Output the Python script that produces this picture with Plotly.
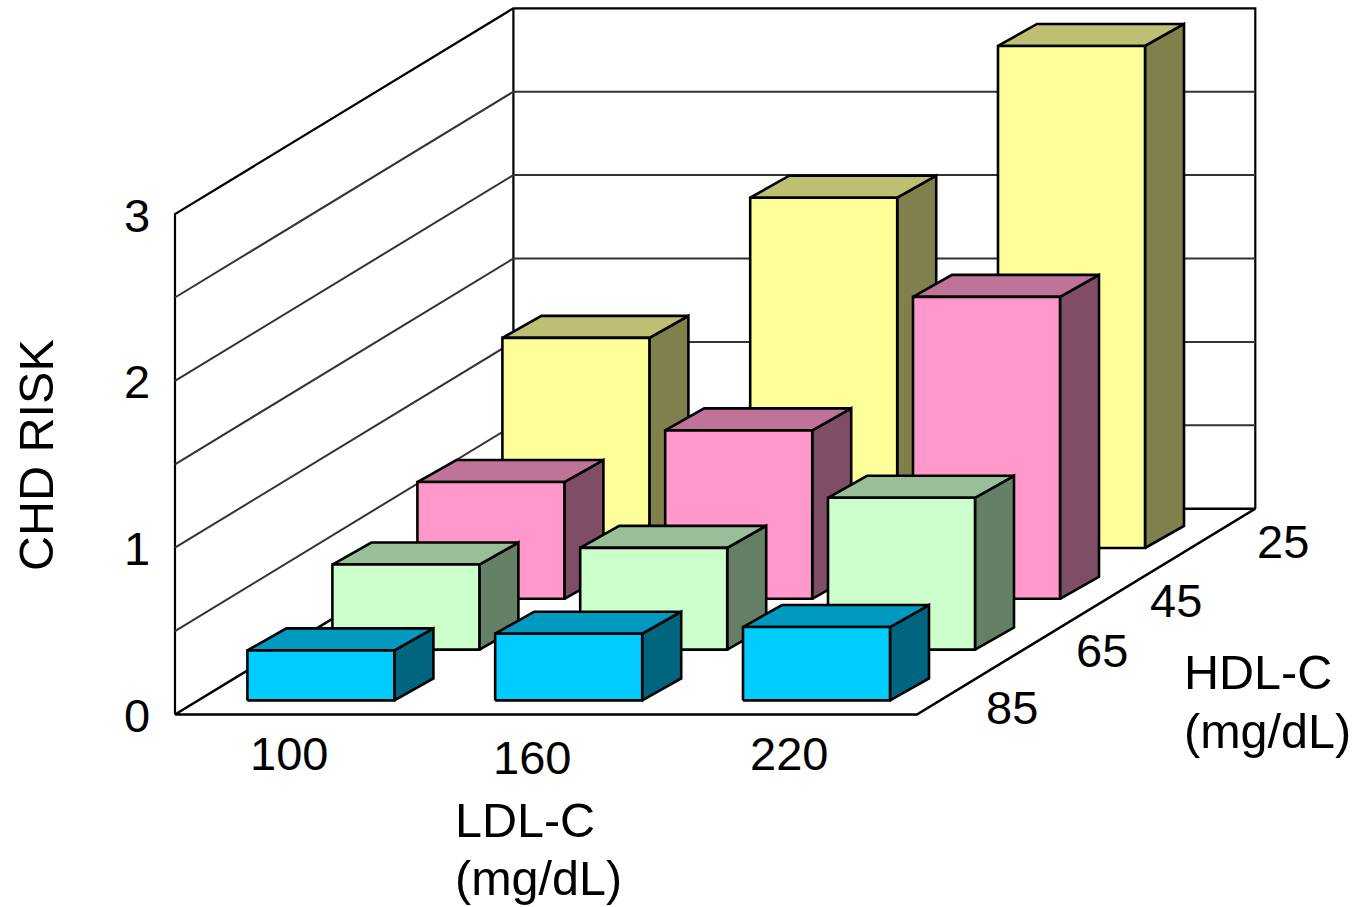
import plotly.graph_objects as go

# ---- data ----
ldl_labels = ["100", "160", "220"]
hdl_labels = ["85", "65", "45", "25"]
risk_ticks = [0, 1, 2, 3]
risk_hdl85 = [0.30, 0.40, 0.44]
risk_hdl65 = [0.51, 0.61, 0.91]
risk_hdl45 = [0.70, 1.01, 1.81]
risk_hdl25 = [1.26, 2.10, 3.01]
rows = [risk_hdl85, risk_hdl65, risk_hdl45, risk_hdl25]

front_colors = ["#00CCFF", "#CCFFCC", "#FF99CC", "#FFFF99"]
top_colors = ["#0099BF", "#99BF99", "#BF7399", "#BFBF73"]
side_colors = ["#006680", "#668066", "#804D66", "#80804D"]

# ---- oblique projection: u = LDL slot, d = HDL slot, v = risk ----
X0, Y0 = 175.0, 714.5
UX = 247.3
DX, DY = 84.6, 51.45
VY = 166.8
YMAX = 3
LINE = "#000000"

# bar placement inside the floor
BAR_X0, BAR_Y0 = 247.4, 700.4
BAR_UX = 247.8
BAR_DX, BAR_DY = 85.0, 50.8
BAR_W = 147.0
BAR_DEPTH_X, BAR_DEPTH_Y = 39.0, 22.0


def P(u, d, v):
    return X0 + UX * u + DX * d, Y0 - DY * d - VY * v


def B(u, d, v, right=False, back=False):
    x = BAR_X0 + BAR_UX * u + BAR_DX * d + (BAR_W if right else 0) + (BAR_DEPTH_X if back else 0)
    y = BAR_Y0 - BAR_DY * d - VY * v - (BAR_DEPTH_Y if back else 0)
    return x, y


fig = go.Figure()


def poly(points, fill=None, width=2.6, color=LINE):
    xs = [p[0] for p in points]
    ys = [p[1] for p in points]
    fig.add_trace(go.Scatter(
        x=xs, y=ys, mode="lines",
        fill="toself" if fill else None,
        fillcolor=fill,
        line=dict(color=color, width=width),
        hoverinfo="skip", showlegend=False,
    ))


nu, nd = len(ldl_labels), len(rows)

# walls and floor
poly([P(0, 0, 0), P(nu, 0, 0), P(nu, nd, 0), P(0, nd, 0), P(0, 0, 0)], width=2.5)
poly([P(0, 0, 0), P(0, 0, YMAX), P(0, nd, YMAX), P(0, nd, 0)], width=2.2)
poly([P(0, nd, YMAX), P(nu, nd, YMAX), P(nu, nd, 0)], width=2.2)
for k in range(1, 2 * YMAX):
    v = k / 2
    poly([P(0, 0, v), P(0, nd, v), P(nu, nd, v)], width=2, color="#333333")

# bars, back to front
for d in reversed(range(nd)):
    for u in range(nu):
        v = rows[d][u]
        poly([B(u, d, 0, True), B(u, d, 0, True, True), B(u, d, v, True, True), B(u, d, v, True), B(u, d, 0, True)], side_colors[d])
        poly([B(u, d, v), B(u, d, v, True), B(u, d, v, True, True), B(u, d, v, False, True), B(u, d, v)], top_colors[d])
        poly([B(u, d, 0), B(u, d, 0, True), B(u, d, v, True), B(u, d, v), B(u, d, 0)], front_colors[d])

TICK_FONT = dict(family="Liberation Sans, Arial, sans-serif", size=47, color="#000000")
TITLE_FONT = dict(family="Liberation Sans, Arial, sans-serif", size=48.5, color="#000000")


def text(x, y, s, font, anchor="center", angle=0):
    fig.add_annotation(x=x, y=y, text=s, showarrow=False, xref="x", yref="y",
                       xanchor=anchor, yanchor="middle", font=font, textangle=angle)


# tick labels
for t in risk_ticks:
    x, y = P(0, 0, t)
    text(x - 38, y + 1, str(t), TICK_FONT)
ldl_pos = [(289, 753), (532, 757), (789, 753)]
for s, (x, y) in zip(ldl_labels, ldl_pos):
    text(x, y, s, TICK_FONT)
hdl_pos = [(1012, 707), (1102, 650), (1176, 600), (1283, 541)]
for s, (x, y) in zip(hdl_labels, hdl_pos):
    text(x, y, s, TICK_FONT)

# axis titles
text(36, 455, "CHD RISK", TITLE_FONT, angle=-90)
text(453, 820, "LDL-C", TITLE_FONT, anchor="left")
text(453, 878, "(mg/dL)", TITLE_FONT, anchor="left")
text(1182, 672, "HDL-C", TITLE_FONT, anchor="left")
text(1182, 731, "(mg/dL)", TITLE_FONT, anchor="left")

fig.update_layout(
    width=1353, height=907,
    margin=dict(l=0, r=0, t=0, b=0),
    paper_bgcolor="white", plot_bgcolor="white",
    xaxis=dict(range=[0, 1353], visible=False, fixedrange=True),
    yaxis=dict(range=[907, 0], visible=False, fixedrange=True),
    showlegend=False,
)
fig.write_html("out.html", config={"displayModeBar": False},
               post_script="document.body.style.margin='0';document.body.style.overflow='hidden';")
